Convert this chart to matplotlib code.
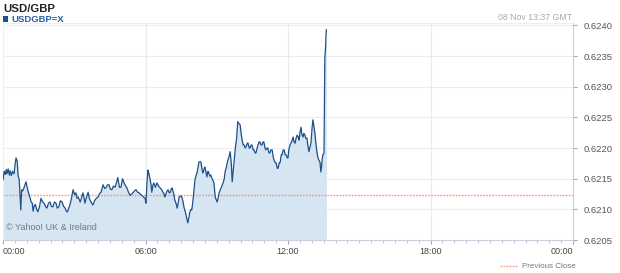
import matplotlib
matplotlib.use("Agg")
import matplotlib.pyplot as plt
import numpy as np
from matplotlib.patches import Rectangle
from matplotlib.lines import Line2D

plt.rcParams["font.family"] = ["Liberation Sans", "DejaVu Sans"]

# minutes after 00:00 GMT, 08 Nov
minutes = [
    0, 3, 6, 8, 10, 13, 16, 18, 21, 24, 28, 31, 33, 36, 38, 41, 45, 47, 50, 54,
    58, 61, 64, 68, 71, 74, 76, 79, 82, 85, 88, 92, 96, 100, 104, 108, 111, 115, 119, 122,
    126, 130, 134, 137, 141, 145, 149, 153, 157, 160, 163, 166, 169, 173, 177, 181, 184, 187, 190, 195,
    198, 202, 205, 207, 211, 215, 218, 220, 224, 227, 230, 232, 236, 240, 244, 248, 251, 253, 257, 260,
    264, 268, 271, 275, 279, 283, 286, 290, 294, 298, 302, 306, 310, 313, 317, 321, 325, 328, 332, 336,
    340, 344, 348, 351, 355, 359, 361, 364, 366, 368, 371, 374, 376, 379, 381, 385, 389, 393, 397, 401,
    404, 407, 409, 413, 417, 420, 422, 425, 427, 431, 434, 437, 440, 443, 445, 449, 452, 455, 457, 461,
    465, 467, 470, 472, 475, 477, 480, 483, 485, 488, 490, 493, 495, 498, 500, 503, 505, 508, 510, 513,
    515, 518, 520, 523, 525, 528, 530, 533, 536, 539, 541, 544, 546, 549, 551, 554, 556, 559, 561, 564,
    568, 571, 574, 577, 579, 582, 584, 587, 590, 593, 596, 599, 602, 604, 607, 609, 612, 614, 617, 619,
    622, 624, 627, 629, 632, 634, 637, 639, 642, 644, 647, 649, 652, 654, 657, 659, 662, 664, 667, 669,
    672, 674, 677, 680, 683, 685, 688, 690, 693, 695, 698, 700, 703, 705, 708, 710, 713, 715, 718, 720,
    722, 725, 729, 733, 735, 738, 740, 743, 746, 748, 750, 753, 755, 758, 760, 763, 765, 768, 770, 773,
    775, 778, 780, 781, 783, 785, 788, 790, 793, 795, 798, 800, 801, 803, 805, 806, 808, 810, 811, 813,
    814, 815, 816, 817,
]
price = [
    0.62148, 0.62162, 0.62157, 0.62165, 0.62158, 0.62166, 0.62156, 0.62163, 0.62155, 0.62162,
    0.62158, 0.62176, 0.62184, 0.62178, 0.62156, 0.62148, 0.62099, 0.62132, 0.62130, 0.62137,
    0.62145, 0.62136, 0.62128, 0.62120, 0.62112, 0.62110, 0.62097, 0.62106, 0.62108, 0.62100,
    0.62096, 0.62104, 0.62118, 0.62112, 0.62110, 0.62104, 0.62102, 0.62110, 0.62112, 0.62105,
    0.62104, 0.62112, 0.62110, 0.62102, 0.62104, 0.62114, 0.62112, 0.62105, 0.62102, 0.62097,
    0.62096, 0.62102, 0.62107, 0.62118, 0.62132, 0.62124, 0.62127, 0.62118, 0.62120, 0.62112,
    0.62118, 0.62127, 0.62118, 0.62110, 0.62120, 0.62128, 0.62118, 0.62115, 0.62110, 0.62107,
    0.62112, 0.62115, 0.62118, 0.62120, 0.62126, 0.62128, 0.62136, 0.62140, 0.62134, 0.62135,
    0.62140, 0.62140, 0.62133, 0.62132, 0.62138, 0.62136, 0.62142, 0.62152, 0.62136, 0.62136,
    0.62150, 0.62143, 0.62138, 0.62135, 0.62128, 0.62123, 0.62125, 0.62127, 0.62130, 0.62132,
    0.62128, 0.62127, 0.62124, 0.62123, 0.62120, 0.62118, 0.62110, 0.62145, 0.62164, 0.62160,
    0.62151, 0.62140, 0.62128, 0.62140, 0.62143, 0.62136, 0.62143, 0.62138, 0.62135, 0.62132,
    0.62128, 0.62125, 0.62120, 0.62128, 0.62132, 0.62127, 0.62127, 0.62133, 0.62135, 0.62126,
    0.62115, 0.62110, 0.62102, 0.62112, 0.62120, 0.62122, 0.62120, 0.62112, 0.62104, 0.62095,
    0.62083, 0.62078, 0.62088, 0.62096, 0.62100, 0.62099, 0.62115, 0.62135, 0.62148, 0.62156,
    0.62159, 0.62170, 0.62177, 0.62178, 0.62177, 0.62165, 0.62159, 0.62166, 0.62169, 0.62160,
    0.62153, 0.62162, 0.62159, 0.62154, 0.62156, 0.62150, 0.62148, 0.62143, 0.62120, 0.62115,
    0.62112, 0.62120, 0.62127, 0.62132, 0.62135, 0.62140, 0.62143, 0.62150, 0.62161, 0.62168,
    0.62180, 0.62186, 0.62194, 0.62172, 0.62145, 0.62165, 0.62180, 0.62200, 0.62215, 0.62243,
    0.62240, 0.62238, 0.62222, 0.62213, 0.62205, 0.62205, 0.62200, 0.62202, 0.62208, 0.62208,
    0.62200, 0.62200, 0.62205, 0.62205, 0.62197, 0.62197, 0.62192, 0.62192, 0.62200, 0.62205,
    0.62210, 0.62210, 0.62205, 0.62205, 0.62210, 0.62210, 0.62200, 0.62197, 0.62200, 0.62200,
    0.62192, 0.62192, 0.62197, 0.62197, 0.62184, 0.62180, 0.62176, 0.62176, 0.62167, 0.62167,
    0.62176, 0.62176, 0.62189, 0.62189, 0.62197, 0.62197, 0.62189, 0.62189, 0.62184, 0.62184,
    0.62197, 0.62205, 0.62210, 0.62218, 0.62210, 0.62208, 0.62215, 0.62221, 0.62218, 0.62213,
    0.62225, 0.62234, 0.62222, 0.62218, 0.62224, 0.62221, 0.62216, 0.62216, 0.62205, 0.62194,
    0.62200, 0.62208, 0.62225, 0.62234, 0.62246, 0.62238, 0.62224, 0.62210, 0.62194, 0.62186,
    0.62180, 0.62178, 0.62176, 0.62161, 0.62170, 0.62180, 0.62189, 0.62190, 0.62192, 0.62347,
    0.62355, 0.62365, 0.62384, 0.62393,
]
prev_close = 0.62124
yticks = [0.6205, 0.6210, 0.6215, 0.6220, 0.6225, 0.6230, 0.6235, 0.6240]
xtick_hours = [0, 6, 12, 18, 24]
xtick_labels = ["00:00", "06:00", "12:00", "18:00", "00:00"]

hours = np.array(minutes) / 60.0
price = np.array(price)

W, H = 620, 273
fig = plt.figure(figsize=(W / 100, H / 100), dpi=100)
ax = fig.add_axes([3 / W, (H - 240) / H, 570 / W, 217 / H])

ylo, yhi = 0.6205, 0.62404
ax.set_xlim(0, 24)
ax.set_ylim(ylo, yhi)

# grid
for yv in yticks[1:]:
    ax.axhline(yv, color="#e9ecf3", lw=0.8, zorder=0)
for xv in [6, 12, 18]:
    ax.axvline(xv, color="#e6ebf2", lw=0.8, zorder=0)

ax.fill_between(hours, price, ylo, color="#d5e5f2", lw=0, zorder=1)
ax.plot(hours, price, color="#1e4f8b", lw=0.9, zorder=3)
ax.axhline(prev_close, color="#f39a72", lw=1.0, ls=(0, (1.2, 1.0)), zorder=2)

for side in ["top", "left"]:
    ax.spines[side].set_color("#eceef2")
    ax.spines[side].set_linewidth(0.8)
for side in ["bottom", "right"]:
    ax.spines[side].set_color("#c8d0dc")
    ax.spines[side].set_linewidth(0.8)

ax.yaxis.tick_right()
ax.set_yticks(yticks)
ax.set_yticklabels([f"{v:.4f}" for v in yticks])
ax.tick_params(axis="y", direction="out", length=3, width=0.7, color="#9aa4b2",
               labelsize=6.8, labelcolor="#555555", pad=5)

ax.set_xticks(xtick_hours)
ax.set_xticklabels(xtick_labels)
ax.set_xticks(np.arange(0, 24.01, 0.5), minor=True)
ax.tick_params(axis="x", which="major", direction="out", length=3, width=0.7,
               color="#9aa4b2", labelsize=6.5, labelcolor="#444444", pad=2)
ax.tick_params(axis="x", which="minor", direction="out", length=2, width=0.6,
               color="#b0b8c4")
xlabels = ax.get_xticklabels()
xlabels[0].set_horizontalalignment("left")
xlabels[-1].set_horizontalalignment("right")

ax.text(0.006, 0.035, "\u00a9 Yahoo! UK & Ireland", transform=ax.transAxes,
        fontsize=6.5, color="#777777", ha="left", va="bottom")

# header texts
fig.text(3 / W, 1 - 9 / H, "USD/GBP", fontsize=8.2, fontweight="bold",
         color="#222222", ha="left", va="center")
fig.patches.append(Rectangle((3 / W, 1 - 22 / H), 5 / W, 6 / H,
                             transform=fig.transFigure, color="#1e4f8b", lw=0))
fig.text(11 / W, 1 - 19 / H, "USDGBP=X", fontsize=6.8, fontweight="bold",
         color="#2c5f9e", ha="left", va="center")
fig.text(572 / W, 1 - 18 / H, "08 Nov 13:37 GMT", fontsize=6.3,
         color="#aaaaaa", ha="right", va="center")

# legend
fig.lines.append(Line2D([500 / W, 518 / W], [1 - 266 / H, 1 - 266 / H],
                        transform=fig.transFigure, color="#f39a72", lw=1.0,
                        ls=(0, (1.2, 1.0))))
fig.text(522 / W, 1 - 266 / H, "Previous Close", fontsize=5.8,
         color="#777777", ha="left", va="center")

fig.savefig("out.png", dpi=100)
